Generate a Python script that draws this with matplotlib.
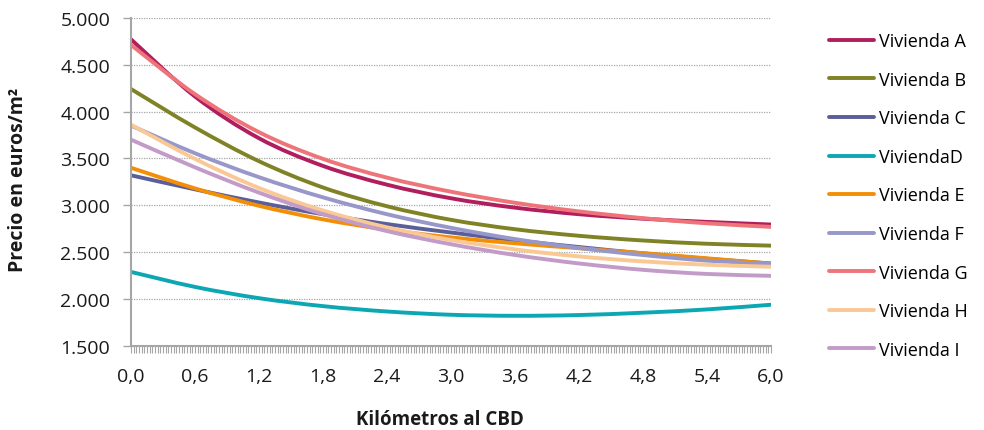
import matplotlib
matplotlib.use("Agg")
import matplotlib.pyplot as plt
import numpy as np
from matplotlib.path import Path
from matplotlib.patches import PathPatch
from matplotlib.ticker import FuncFormatter, MultipleLocator

plt.rcParams['font.family'] = ['Open Sans', 'DejaVu Sans']

# distancia al CBD (km)
km = [0.0, 0.6, 1.2, 1.8, 2.4, 3.0, 3.6, 4.2, 4.8, 5.4, 6.0]

# precio en euros/m2
viv_a = [4770, 4160, 3715, 3420, 3220, 3075, 2975, 2905, 2857, 2823, 2795]
viv_b = [4240, 3830, 3470, 3190, 2990, 2845, 2745, 2675, 2625, 2590, 2570]
viv_c = [3320, 3170, 3030, 2905, 2800, 2710, 2628, 2555, 2488, 2430, 2380]
viv_d = [2290, 2130, 2010, 1925, 1868, 1833, 1822, 1830, 1855, 1890, 1940]
viv_e = [3400, 3180, 2995, 2850, 2740, 2658, 2595, 2542, 2490, 2435, 2378]
viv_f = [3850, 3555, 3300, 3085, 2905, 2760, 2640, 2545, 2470, 2410, 2375]
viv_g = [4710, 4185, 3780, 3495, 3295, 3145, 3027, 2935, 2863, 2808, 2770]
viv_h = [3860, 3495, 3185, 2945, 2765, 2630, 2530, 2455, 2402, 2366, 2345]
viv_i = [3700, 3405, 3135, 2905, 2725, 2585, 2470, 2380, 2312, 2268, 2248]

series = [
    ("Vivienda A", viv_a, "#B01E5E"),
    ("Vivienda B", viv_b, "#808226"),
    ("Vivienda C", viv_c, "#5B5E98"),
    ("ViviendaD", viv_d, "#0CA7B3"),
    ("Vivienda E", viv_e, "#F28F06"),
    ("Vivienda F", viv_f, "#9797C9"),
    ("Vivienda G", viv_g, "#EE7479"),
    ("Vivienda H", viv_h, "#F9C895"),
    ("Vivienda I", viv_i, "#C29BC8"),
]


def smooth_path(x, y):
    # curva suavizada (Catmull-Rom convertida a Bezier cubico)
    p = np.column_stack([x, y]).astype(float)
    n = len(p)
    verts = [p[0]]
    codes = [Path.MOVETO]
    for i in range(n - 1):
        p0 = p[i - 1] if i > 0 else p[i]
        p3 = p[i + 2] if i + 2 < n else p[i + 1]
        c1 = p[i] + (p[i + 1] - p0) / 6.0
        c2 = p[i + 1] - (p3 - p[i]) / 6.0
        verts += [c1, c2, p[i + 1]]
        codes += [Path.CURVE4] * 3
    return Path(verts, codes)


fig = plt.figure(figsize=(9.84, 4.31), dpi=100)
ax = fig.add_axes([0.1331, 0.1949, 0.6504, 0.7617])

for name, vals, col in series:
    patch = PathPatch(smooth_path(km, vals), fill=False, edgecolor=col,
                      lw=2.8, capstyle='round', joinstyle='round')
    ax.add_patch(patch)
    ax.plot([], [], color=col, lw=2.8, solid_capstyle='round', label=name)

ax.set_xlim(0, 6.0)
ax.set_ylim(1500, 5000)

ax.xaxis.set_major_locator(MultipleLocator(0.6))
ax.xaxis.set_minor_locator(MultipleLocator(0.025))
ax.yaxis.set_major_locator(MultipleLocator(500))
ax.xaxis.set_major_formatter(FuncFormatter(lambda v, p: f"{v:.1f}".replace(".", ",")))
ax.yaxis.set_major_formatter(FuncFormatter(lambda v, p: f"{int(round(v)):,}".replace(",", ".")))

ax.grid(axis='y', color='#A6A6A6', linestyle=(0, (1, 1)), lw=0.9)
ax.set_axisbelow(True)

for s in ['top', 'right']:
    ax.spines[s].set_visible(False)
for s in ['left', 'bottom']:
    ax.spines[s].set_color('#A6A6A6')
    ax.spines[s].set_linewidth(1.5)

ax.tick_params(axis='y', which='major', length=6, width=1, color='#A6A6A6',
               labelsize=14, labelcolor='#1A1A1A', pad=9)
ax.tick_params(axis='x', which='both', length=5, width=0.8, color='#A6A6A6',
               labelsize=14, labelcolor='#1A1A1A', pad=10)

fig.text(18 / 984, 0.582, "Precio en euros/m²", rotation=90, ha='center',
         va='center', fontsize=14, fontweight='bold', color='#1A1A1A')
fig.text(440 / 984, 1 - 420 / 431, "Kilómetros al CBD", ha='center',
         va='center', fontsize=13.5, fontweight='bold', color='#1A1A1A')

fig.legend(loc='upper left', bbox_to_anchor=(0.835, 0.94), frameon=False,
           fontsize=13, handlelength=2.5, handletextpad=0.3,
           labelspacing=1.14, borderaxespad=0)

fig.savefig("out.png", dpi=100)
